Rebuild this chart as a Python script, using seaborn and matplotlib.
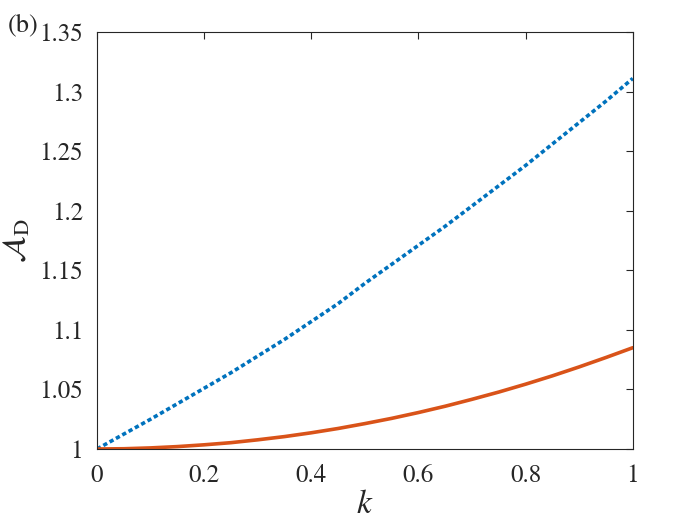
import numpy as np
import pandas as pd
import matplotlib
matplotlib.use("Agg")
import matplotlib.pyplot as plt
import seaborn as sns

# ------------------ Data ------------------
k_vals = [0.0, 0.05, 0.1, 0.15, 0.2, 0.25, 0.3, 0.35, 0.4, 0.45, 0.5,
          0.55, 0.6, 0.65, 0.7, 0.75, 0.8, 0.85, 0.9, 0.95, 1.0]
a_dotted = [1.000, 1.0125, 1.025, 1.038, 1.051, 1.064, 1.078, 1.092, 1.107, 1.122, 1.139,
            1.155, 1.171, 1.187, 1.204, 1.221, 1.238, 1.256, 1.274, 1.292, 1.311]
a_solid = [1.000, 1.0002, 1.0009, 1.002, 1.0035, 1.0053, 1.0077, 1.0104, 1.0136, 1.0172, 1.0213,
           1.0257, 1.0306, 1.0359, 1.0417, 1.0478, 1.0544, 1.0614, 1.0689, 1.0768, 1.085]
x_ticks = [0, 0.2, 0.4, 0.6, 0.8, 1]
x_tick_labels = ["0", "0.2", "0.4", "0.6", "0.8", "1"]
y_ticks = [1, 1.05, 1.1, 1.15, 1.2, 1.25, 1.3, 1.35]
y_tick_labels = ["1", "1.05", "1.1", "1.15", "1.2", "1.25", "1.3", "1.35"]

df = pd.DataFrame({
    "k": k_vals * 2,
    "A": a_dotted + a_solid,
    "series": ["dotted"] * len(k_vals) + ["solid"] * len(k_vals),
})

# ------------------ Style ------------------
sns.set_style("white")
plt.rcParams["font.family"] = ["STIXGeneral", "Liberation Serif", "DejaVu Serif"]
plt.rcParams["mathtext.fontset"] = "stix"

fig = plt.figure(figsize=(7, 5.25), dpi=100)
ax = fig.add_axes([0.1386, 0.1448, 0.7654, 0.7943])

sns.lineplot(data=df[df.series == "dotted"], x="k", y="A", ax=ax,
             color="#0072BD", linestyle=(0, (1.2, 0.8)), linewidth=2.6)
sns.lineplot(data=df[df.series == "solid"], x="k", y="A", ax=ax,
             color="#D95319", linestyle="-", linewidth=2.6)

ax.set_xlim(0, 1)
ax.set_ylim(1, 1.35)
ax.set_xticks(x_ticks)
ax.set_xticklabels(x_tick_labels)
ax.set_yticks(y_ticks)
ax.set_yticklabels(y_tick_labels)
ax.tick_params(direction="in", length=5, width=0.8, labelsize=18,
               top=True, right=True, colors="#262626")
ax.tick_params(axis="y", pad=10)
ax.tick_params(axis="x", pad=11)
for sp in ax.spines.values():
    sp.set_color("#262626")
    sp.set_linewidth(0.8)

ax.set_xlabel(r"$k$", fontsize=24, labelpad=2)
ax.set_ylabel(r"$\mathcal{A}_{\mathrm{D}}$", fontsize=23, labelpad=5)
fig.text(0.011, 0.94, "(b)", fontsize=19, color="#262626")

fig.savefig("out.png", dpi=100)
